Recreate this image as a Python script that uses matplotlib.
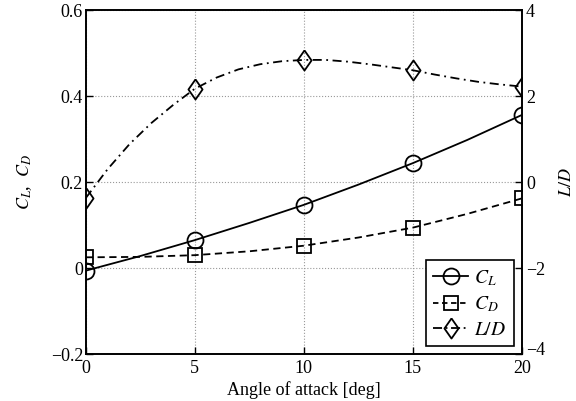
import numpy as np
import matplotlib
matplotlib.use('Agg')
from matplotlib import pyplot as plt
from matplotlib.lines import Line2D
from matplotlib.transforms import ScaledTranslation

plt.rcParams['font.family'] = ['Liberation Serif', 'DejaVu Serif']
plt.rcParams['mathtext.fontset'] = 'stix'
plt.rcParams['font.size'] = 13

# data
aoa = [0, 5, 10, 15, 20]
cl = [-0.006, 0.065, 0.147, 0.244, 0.356]
cd = [0.025, 0.030, 0.052, 0.094, 0.162]
ld = [-0.37, 2.17, 2.84, 2.60, 2.22]

# smooth curves between the markers, read at more angles
aoa_coef = [0, 2.5, 5, 7.5, 10, 12.5, 15, 17.5, 20]
cl_curve = [-0.006, 0.028, 0.065, 0.105, 0.147, 0.194, 0.244, 0.298, 0.356]
cd_curve = [0.025, 0.026, 0.030, 0.039, 0.052, 0.071, 0.094, 0.126, 0.162]
aoa_ld = list(range(21))
ld_curve = [-0.37, 0.30, 0.88, 1.37, 1.79, 2.17, 2.43, 2.62, 2.74, 2.81, 2.84,
            2.84, 2.80, 2.74, 2.67, 2.60, 2.50, 2.41, 2.33, 2.27, 2.22]

# diamond a bit taller than wide, like the original
diamond = [(0, 1), (0.7, 0), (0, -1), (-0.7, 0), (0, 1)]

fig = plt.figure(figsize=(5.76, 4.01), dpi=100)
ax = fig.add_axes([0.149, 0.117, 0.757, 0.858])
ax2 = ax.twinx()

lw = 1.3
mk = dict(mfc='none', mec='k', mew=1.3, color='k')

ax.plot(aoa_coef, cl_curve, '-', color='k', lw=lw)
ax.plot(aoa, cl, 'o', ms=11.5, **mk)
ax.plot(aoa_coef, cd_curve, '--', color='k', lw=lw, dashes=(4, 2.5))
ax.plot(aoa, cd, 's', ms=9.5, **mk)
ax2.plot(aoa_ld, ld_curve, '-.', color='k', lw=lw, dashes=(5, 2.5, 1, 2.5))
ax2.plot(aoa, ld, ls='none', marker=diamond, ms=14.5, **mk)

ax.set_xlim(0, 20)
ax.set_ylim(-0.2, 0.6)
ax2.set_ylim(-4, 4)
ax.set_xticks([0, 5, 10, 15, 20])
ax.set_yticks([-0.2, 0, 0.2, 0.4, 0.6])
ax.set_yticklabels(['\u22120.2', '0', '0.2', '0.4', '0.6'])
ax2.set_yticks([-4, -2, 0, 2, 4])
ax2.set_yticklabels(['\u22124', '\u22122', '0', '2', '4'])

ax.grid(True, linestyle=':', color='#999999', lw=0.8)
ax.tick_params(axis='y', direction='in', length=5, width=1, pad=2)
ax.tick_params(axis='x', direction='in', length=5, width=1, pad=4)
ax2.tick_params(direction='in', length=5, width=1, pad=3)
for a in (ax, ax2):
    for s in a.spines.values():
        s.set_linewidth(1.2)

# lift the bottom right label a little so it clears the "20"
lab = ax2.get_yticklabels()[0]
lab.set_transform(lab.get_transform() + ScaledTranslation(0, 4 / 72, fig.dpi_scale_trans))

ax.set_xlabel('Angle of attack [deg]', labelpad=3)
ax.set_ylabel('$C_L$,  $C_D$', labelpad=12)
ax2.set_ylabel('$L/D$', labelpad=9)

handles = [
    Line2D([], [], ls='-', marker='o', ms=11.5, lw=lw, **mk),
    Line2D([], [], ls='--', marker='s', ms=9.5, lw=lw, dashes=(3, 2), **mk),
    Line2D([], [], ls='-.', marker=diamond, ms=14.5, lw=lw, dashes=(5, 2, 1, 2), **mk),
]
leg = ax2.legend(handles, ['$C_L$', '$C_D$', '$L/D$'], loc='lower right',
                 fancybox=False, edgecolor='k', framealpha=1,
                 handlelength=1.8, handletextpad=0.3, borderaxespad=0.4,
                 labelspacing=0.35, borderpad=0.4, fontsize=14)
leg.get_frame().set_linewidth(1.2)

plt.savefig('out.png', dpi=100)
